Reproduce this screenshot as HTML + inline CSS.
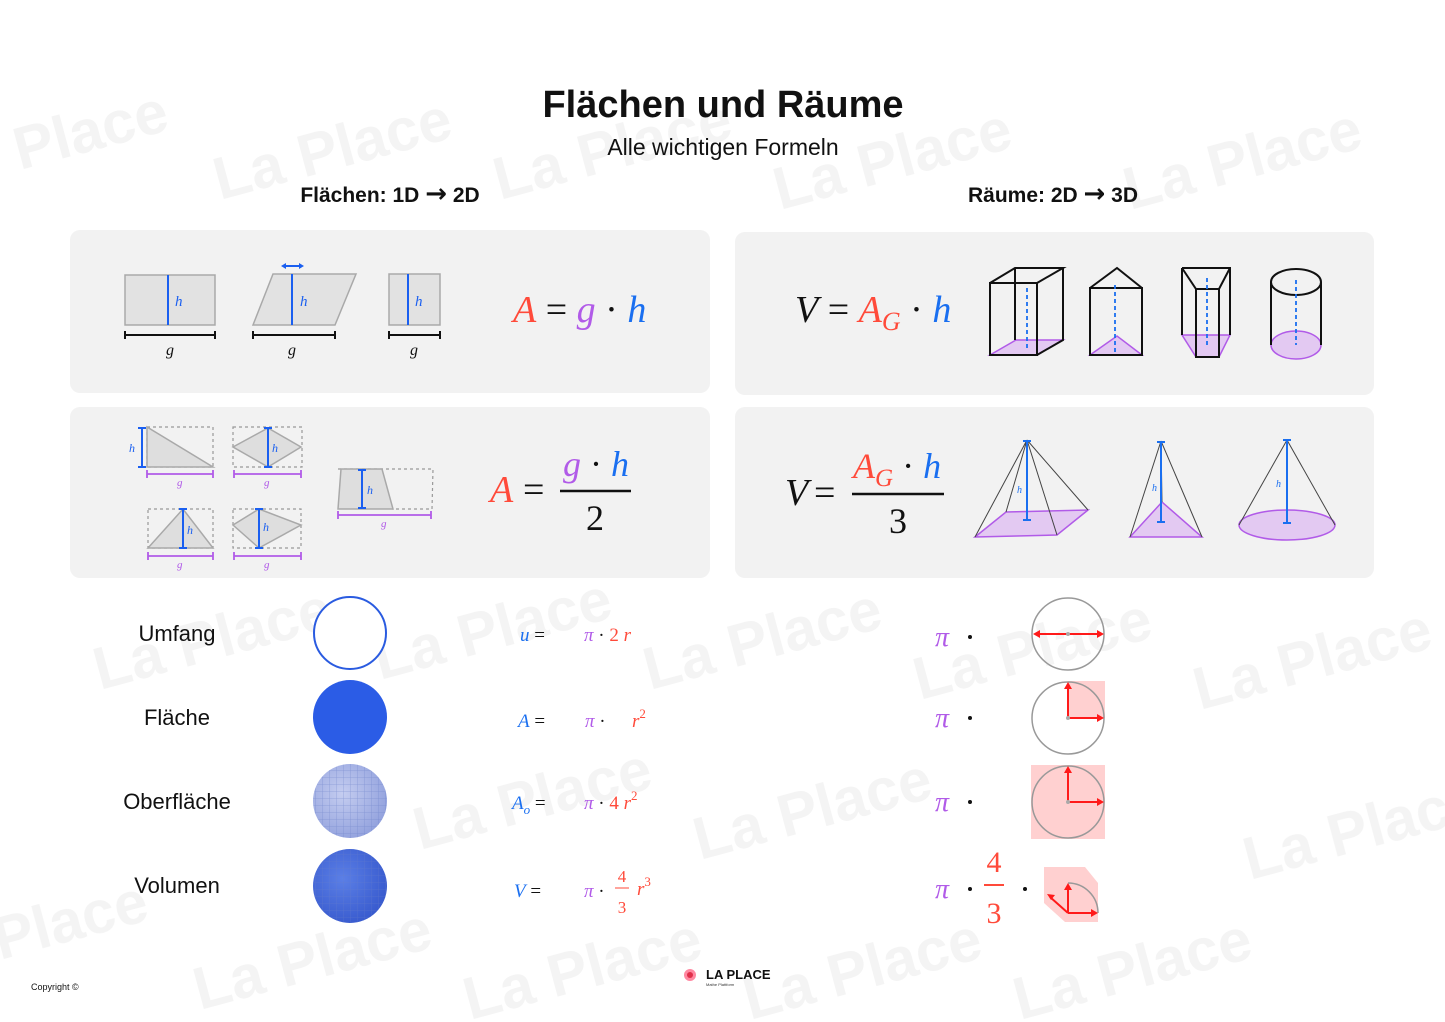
<!DOCTYPE html>
<html><head><meta charset="utf-8"><style>
html,body{margin:0;padding:0;background:#fff;}
svg{display:block;}
.s{font-family:"Liberation Sans",sans-serif;}
.m{font-family:"Liberation Serif",serif;font-style:italic;}
.r{font-family:"Liberation Serif",serif;}
</style></head><body>
<svg width="1445" height="1022" viewBox="0 0 1445 1022" xmlns="http://www.w3.org/2000/svg">
<defs>
<pattern id="grid" width="7" height="7" patternUnits="userSpaceOnUse"><path d="M0 0H7M0 0V7" stroke="#6a7fc8" stroke-width="0.8" fill="none"/></pattern>
<radialGradient id="sph1" cx="0.4" cy="0.4" r="0.7"><stop offset="0" stop-color="#c5cdf0"/><stop offset="1" stop-color="#8e9edc"/></radialGradient>
<radialGradient id="sph2" cx="0.4" cy="0.4" r="0.7"><stop offset="0" stop-color="#5b7fe6"/><stop offset="1" stop-color="#3557cc"/></radialGradient>
<clipPath id="c1"><circle cx="350" cy="801" r="37"/></clipPath>
<clipPath id="c2"><circle cx="350" cy="886" r="37"/></clipPath>
</defs>
<!-- watermarks -->
<g class="s" font-size="60" font-weight="bold" fill="#000" opacity="0.045">
<text transform="translate(20,170) rotate(-15)">Place</text>
<text transform="translate(220,200) rotate(-15)">La Place</text>
<text transform="translate(500,200) rotate(-15)">La Place</text>
<text transform="translate(780,210) rotate(-15)">La Place</text>
<text transform="translate(1130,210) rotate(-15)">La Place</text>
<text transform="translate(100,690) rotate(-15)">La Place</text>
<text transform="translate(380,680) rotate(-15)">La Place</text>
<text transform="translate(650,690) rotate(-15)">La Place</text>
<text transform="translate(920,700) rotate(-15)">La Place</text>
<text transform="translate(1200,710) rotate(-15)">La Place</text>
<text transform="translate(420,850) rotate(-15)">La Place</text>
<text transform="translate(700,860) rotate(-15)">La Place</text>
<text transform="translate(1250,880) rotate(-15)">La Place</text>
<text transform="translate(200,1010) rotate(-15)">La Place</text>
<text transform="translate(470,1020) rotate(-15)">La Place</text>
<text transform="translate(750,1020) rotate(-15)">La Place</text>
<text transform="translate(1020,1020) rotate(-15)">La Place</text>
<text transform="translate(0,960) rotate(-15)">Place</text>
</g>
<!-- titles -->
<text x="723" y="117" text-anchor="middle" class="s" font-size="38" font-weight="bold" fill="#111">Flächen und Räume</text>
<text x="723" y="155" text-anchor="middle" class="s" font-size="23" fill="#111">Alle wichtigen Formeln</text>
<text x="390" y="202" text-anchor="middle" class="s" font-size="21" font-weight="bold" fill="#111">Flächen: 1D <tspan font-size="26" font-family="DejaVu Sans, sans-serif">→</tspan> 2D</text>
<text x="1053" y="202" text-anchor="middle" class="s" font-size="21" font-weight="bold" fill="#111">Räume: 2D <tspan font-size="26" font-family="DejaVu Sans, sans-serif">→</tspan> 3D</text>
<!-- panels -->
<rect x="70" y="230" width="640" height="163" rx="10" fill="#f2f2f2"/>
<rect x="70" y="407" width="640" height="171" rx="10" fill="#f2f2f2"/>
<rect x="735" y="232" width="639" height="163" rx="10" fill="#f2f2f2"/>
<rect x="735" y="407" width="639" height="171" rx="10" fill="#f2f2f2"/>

<!-- top-left shapes -->
<g stroke="#a9a9a9" stroke-width="1.5" fill="#e2e2e2">
<rect x="125" y="275" width="90" height="50"/>
<polygon points="253,325 273,274 356,274 335,325"/>
<rect x="389" y="274" width="51" height="51"/>
</g>
<g stroke="#1a5ff0" stroke-width="2">
<line x1="168" y1="275" x2="168" y2="325"/><line x1="292" y1="274" x2="292" y2="325"/><line x1="408" y1="274" x2="408" y2="325"/>
<line x1="284" y1="266" x2="301" y2="266"/>
</g>
<path d="M281 266l5-3v6zM304 266l-5-3v6z" fill="#1a5ff0"/>
<g stroke="#111" stroke-width="2" fill="none">
<path d="M125 335H215M125 331V339M215 331V339"/>
<path d="M253 335H335M253 331V339M335 331V339"/>
<path d="M389 335H440M389 331V339M440 331V339"/>
</g>
<g class="m" font-size="16" fill="#111"><text x="166" y="355">g</text><text x="288" y="355">g</text><text x="410" y="355">g</text></g>
<g class="m" font-size="15" fill="#1a5ff0"><text x="175" y="306">h</text><text x="300" y="306">h</text><text x="415" y="306">h</text></g>
<text x="513" y="322" class="m" font-size="38"><tspan fill="#ff4a3a">A</tspan><tspan fill="#111" font-style="normal"> = </tspan><tspan fill="#b15be8">g</tspan><tspan fill="#111" font-style="normal"> · </tspan><tspan fill="#1a6ff0">h</tspan></text>

<!-- bottom-left shapes -->
<g stroke="#999" stroke-width="1.2" stroke-dasharray="3,3" fill="none">
<rect x="147" y="427" width="66" height="40"/><rect x="233" y="427" width="69" height="40"/>
<rect x="148" y="509" width="65" height="39"/><rect x="233" y="509" width="68" height="39"/>
<path d="M338 469H433L432 509H392"/>
</g>
<g stroke="#a9a9a9" stroke-width="1.5" fill="#dedede">
<polygon points="147,427 147,467 213,467"/>
<polygon points="233,447 268,428 301,447 268,467"/>
<polygon points="148,548 183,509 213,548"/>
<polygon points="233,525 259,509 301,525 259,548"/>
<polygon points="338,509 341,469 382,469 393,509"/>
</g>
<g stroke="#1a5ff0" stroke-width="2" fill="none">
<path d="M142 428V467M138 428H146M138 467H146"/>
<path d="M268 428V467M264 428H272M264 467H272"/>
<path d="M183 509V548M179 509H187M179 548H187"/>
<path d="M259 509V548M255 509H263M255 548H263"/>
<path d="M362 470V508M358 470H366M358 508H366"/>
</g>
<g stroke="#b15be8" stroke-width="1.8" fill="none">
<path d="M147 474H213M147 470V478M213 470V478"/>
<path d="M234 474H301M234 470V478M301 470V478"/>
<path d="M148 556H213M148 552V560M213 552V560"/>
<path d="M234 556H301M234 552V560M301 552V560"/>
<path d="M338 515H431M338 511V519M431 511V519"/>
</g>
<g class="m" font-size="11" fill="#b15be8"><text x="177" y="486">g</text><text x="264" y="486">g</text><text x="177" y="568">g</text><text x="264" y="568">g</text><text x="381" y="527">g</text></g>
<g class="m" font-size="12" fill="#1a5ff0"><text x="129" y="452">h</text><text x="272" y="452">h</text><text x="187" y="534">h</text><text x="263" y="531">h</text><text x="367" y="494">h</text></g>
<text x="490" y="502" class="m" font-size="38" fill="#ff4a3a">A</text>
<text x="523" y="502" class="r" font-size="38" fill="#111">=</text>
<line x1="560" y1="491" x2="631" y2="491" stroke="#111" stroke-width="2.5"/>
<text x="563" y="476" class="m" font-size="36"><tspan fill="#b15be8">g</tspan><tspan fill="#111" font-style="normal"> · </tspan><tspan fill="#1a6ff0">h</tspan></text>
<text x="595" y="530" text-anchor="middle" class="r" font-size="36" fill="#111">2</text>

<!-- top-right -->
<text x="795" y="322" class="m" font-size="38"><tspan fill="#111">V</tspan><tspan fill="#111" font-style="normal"> = </tspan><tspan fill="#ff4a3a">A<tspan font-size="26" dy="8">G</tspan></tspan><tspan fill="#111" font-style="normal" dy="-8"> · </tspan><tspan fill="#1a6ff0">h</tspan></text>
<g stroke="#111" stroke-width="2" fill="none">
<polygon points="990,355 1037,355 1063,340 1016,340" fill="#e3c9f2" stroke="#b15be8" stroke-width="1.5"/>
<rect x="990" y="283" width="47" height="72"/>
<path d="M990 283L1015 268H1063L1037 283M1063 268V340L1037 355M1015 268V340"/>
<polygon points="1090,355 1142,355 1117,336" fill="#e3c9f2" stroke="#b15be8" stroke-width="1.5"/>
<path d="M1090 288H1142V355H1090ZM1090 288L1117 268L1142 288"/>
<polygon points="1182,335 1230,335 1219,357 1196,357" fill="#e3c9f2" stroke="#b15be8" stroke-width="1.5"/>
<path d="M1182 268H1230V335M1182 268V335M1182 268L1196 289H1219L1230 268M1196 289V357H1219V289"/>
<ellipse cx="1296" cy="345" rx="25" ry="14" fill="#e3c9f2" stroke="#b15be8" stroke-width="1.5"/>
<ellipse cx="1296" cy="282" rx="25" ry="13"/>
<path d="M1271 282V345M1321 282V345"/>
</g>
<g stroke="#1a6ff0" stroke-width="1.8" stroke-dasharray="4,3"><line x1="1027" y1="288" x2="1027" y2="350"/><line x1="1115" y1="285" x2="1115" y2="352"/><line x1="1207" y1="278" x2="1207" y2="345"/><line x1="1296" y1="280" x2="1296" y2="345"/></g>

<!-- bottom-right -->
<text x="785" y="505" class="m" font-size="38" fill="#111">V</text>
<text x="814" y="505" class="r" font-size="38" fill="#111">=</text>
<line x1="852" y1="494" x2="944" y2="494" stroke="#111" stroke-width="2.5"/>
<text x="853" y="478" class="m" font-size="36"><tspan fill="#ff4a3a">A<tspan font-size="25" dy="8">G</tspan></tspan><tspan fill="#111" font-style="normal" dy="-8"> · </tspan><tspan fill="#1a6ff0">h</tspan></text>
<text x="898" y="533" text-anchor="middle" class="r" font-size="36" fill="#111">3</text>
<g stroke="#444" stroke-width="1" fill="none">
<polygon points="975,537 1057,535 1088,510 1006,512" fill="#e3c9f2" stroke="#b15be8" stroke-width="1.5"/>
<path d="M1027 440L975 537M1027 440L1057 535M1027 440L1088 510M1027 440L1006 512"/>
<polygon points="1130,537 1202,537 1162,502" fill="#e3c9f2" stroke="#b15be8" stroke-width="1.5"/>
<path d="M1161 441L1130 537M1161 441L1202 537M1161 441L1162 502"/>
<ellipse cx="1287" cy="525" rx="48" ry="15" fill="#e3c9f2" stroke="#b15be8" stroke-width="1.5"/>
<path d="M1287 440L1239 525M1287 440L1335 525"/>
</g>
<g stroke="#1a6ff0" stroke-width="2"><path d="M1027 441V520M1023 441H1031M1023 520H1031"/><path d="M1161 442V522M1157 442H1165M1157 522H1165"/><path d="M1287 440V523M1283 440H1291M1283 523H1291"/></g>
<g class="m" font-size="10" fill="#1a6ff0"><text x="1017" y="493">h</text><text x="1152" y="491">h</text><text x="1276" y="487">h</text></g>

<!-- lower section labels -->
<g class="s" font-size="22" fill="#111" text-anchor="middle" font-weight="500">
<text x="177" y="641">Umfang</text><text x="177" y="725">Fläche</text><text x="177" y="809">Oberfläche</text><text x="177" y="893">Volumen</text>
</g>
<circle cx="350" cy="633" r="36" fill="#fff" stroke="#2a5be0" stroke-width="2"/>
<circle cx="350" cy="717" r="37" fill="#2b5ce6"/>
<circle cx="350" cy="801" r="37" fill="url(#sph1)"/>
<g clip-path="url(#c1)"><rect x="313" y="764" width="74" height="74" fill="url(#grid)" opacity="0.6"/></g>
<circle cx="350" cy="886" r="37" fill="url(#sph2)"/>
<g clip-path="url(#c2)"><rect x="313" y="849" width="74" height="74" fill="url(#grid)" opacity="0.5" stroke="none"/></g>

<!-- formulas -->
<g font-size="19">
<text x="520" y="641" class="m"><tspan fill="#1a6ff0">u</tspan><tspan fill="#111" font-style="normal"> = </tspan></text>
<text x="584" y="641" class="m"><tspan fill="#b15be8">π</tspan><tspan fill="#111" font-style="normal"> · </tspan><tspan fill="#ff4a3a" font-style="normal">2 </tspan><tspan fill="#ff4a3a">r</tspan></text>
<text x="518" y="727" class="m"><tspan fill="#1a6ff0">A</tspan><tspan fill="#111" font-style="normal"> = </tspan></text>
<text x="585" y="727" class="m"><tspan fill="#b15be8">π</tspan><tspan fill="#111" font-style="normal"> · </tspan></text>
<text x="632" y="727" class="m" fill="#ff4a3a">r<tspan font-size="13" dy="-9" font-style="normal">2</tspan></text>
<text x="512" y="809" class="m"><tspan fill="#1a6ff0">A<tspan font-size="13" dy="5">o</tspan></tspan><tspan fill="#111" font-style="normal" dy="-5"> = </tspan></text>
<text x="584" y="809" class="m"><tspan fill="#b15be8">π</tspan><tspan fill="#111" font-style="normal"> · </tspan><tspan fill="#ff4a3a" font-style="normal">4 </tspan><tspan fill="#ff4a3a">r</tspan><tspan fill="#ff4a3a" font-size="13" dy="-9" font-style="normal">2</tspan></text>
<text x="514" y="897" class="m"><tspan fill="#1a6ff0">V</tspan><tspan fill="#111" font-style="normal">  = </tspan></text>
<text x="584" y="897" class="m"><tspan fill="#b15be8">π</tspan><tspan fill="#111" font-style="normal"> · </tspan></text>
<text x="622" y="882" text-anchor="middle" class="r" font-size="17" fill="#ff4a3a">4</text>
<line x1="615" y1="888" x2="629" y2="888" stroke="#ff4a3a" stroke-width="1"/>
<text x="622" y="913" text-anchor="middle" class="r" font-size="17" fill="#ff4a3a">3</text>
<text x="637" y="895" class="m" fill="#ff4a3a">r<tspan font-size="13" dy="-9" font-style="normal">3</tspan></text>
</g>
<!-- right pi column -->
<g class="m" font-size="28" fill="#b15be8"><text x="935" y="646">π</text><text x="935" y="727">π</text><text x="935" y="811">π</text><text x="935" y="898">π</text></g>
<g fill="#111"><circle cx="970" cy="637" r="2"/><circle cx="970" cy="718" r="2"/><circle cx="970" cy="802" r="2"/><circle cx="970" cy="889" r="2"/><circle cx="1025" cy="889" r="2"/></g>
<text x="994" y="872" text-anchor="middle" class="r" font-size="30" fill="#ff4a3a">4</text>
<line x1="984" y1="885" x2="1004" y2="885" stroke="#ff4a3a" stroke-width="2"/>
<text x="994" y="923" text-anchor="middle" class="r" font-size="30" fill="#ff4a3a">3</text>
<!-- circle diagrams -->
<circle cx="1068" cy="634" r="36" fill="none" stroke="#999" stroke-width="1.5"/>
<rect x="1068" y="681" width="37" height="37" fill="#ffd0d0"/>
<circle cx="1068" cy="718" r="36" fill="none" stroke="#999" stroke-width="1.5"/>
<rect x="1031" y="765" width="74" height="74" fill="#ffd0d0"/>
<circle cx="1068" cy="802" r="36" fill="none" stroke="#999" stroke-width="1.5"/>
<polygon points="1044,867 1085,867 1098,883 1098,922 1065,922 1044,903" fill="#ffd0d0"/>
<path d="M1068 883A30 30 0 0 1 1098 913" fill="none" stroke="#999" stroke-width="1.5"/>
<g stroke="#ff1a1a" stroke-width="2" fill="#ff1a1a">
<line x1="1036" y1="634" x2="1100" y2="634"/><path d="M1033 634l7-4v8zM1104 634l-7-4v8z" stroke="none"/>
<path d="M1068 718V686M1068 718H1100" fill="none"/><path d="M1068 682l-4 7h8zM1104 718l-7-4v8z" stroke="none"/>
<path d="M1068 802V770M1068 802H1100" fill="none"/><path d="M1068 766l-4 7h8zM1104 802l-7-4v8z" stroke="none"/>
<path d="M1068 913V887M1068 913H1094M1068 913L1050 897" fill="none"/><path d="M1068 883l-4 7h8zM1098 913l-7-4v8zM1047 894l8 1-4 5z" stroke="none"/>
</g>
<g fill="#aaa"><circle cx="1068" cy="634" r="2"/><circle cx="1068" cy="718" r="2"/><circle cx="1068" cy="802" r="2"/></g>

<!-- footer -->
<text x="31" y="990" class="s" font-size="9" fill="#111">Copyright ©</text>
<circle cx="690" cy="975" r="6" fill="#ff6a8a" opacity="0.8"/><circle cx="690" cy="975" r="3" fill="#e0304a"/>
<text x="706" y="979" class="s" font-size="13" font-weight="bold" fill="#111">LA PLACE</text>
<text x="706" y="986" class="s" font-size="4" fill="#333">Mathe Plattform</text>
</svg>
</body></html>
